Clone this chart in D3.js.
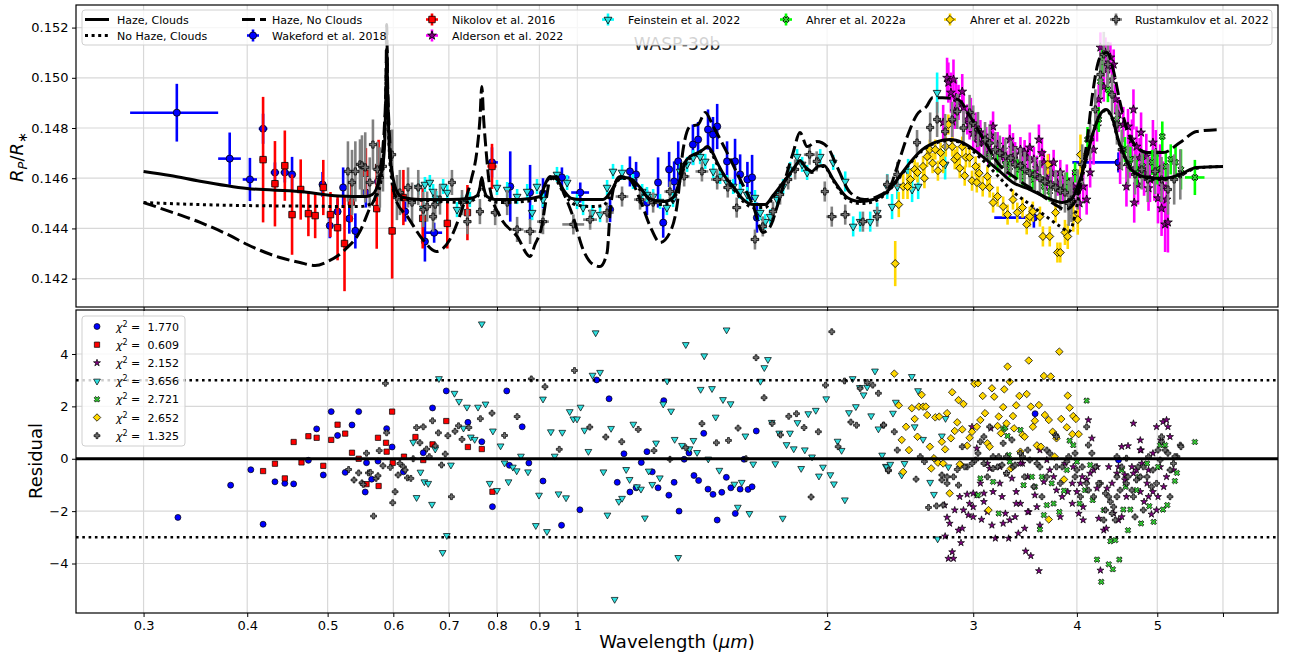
<!DOCTYPE html>
<html>
<head>
<meta charset="utf-8">
<script src="https://cdn.jsdelivr.net/npm/d3@7"></script>
<style>
  body { margin: 0; background: #fff; }
  svg { display: block; font-family: "DejaVu Sans", sans-serif; }
</style>
</head>
<body>
<svg id="chart" width="1293" height="660"></svg>
<script>
// ---------- Axis ticks ----------
const xTickValues = [0.3, 0.4, 0.5, 0.6, 0.7, 0.8, 0.9, 1, 2, 3, 4, 5, 6];
const xTickLabels = ["0.3", "0.4", "0.5", "0.6", "0.7", "0.8", "0.9", "1", "2", "3", "4", "5", ""];
const yTopTicks = [0.142, 0.144, 0.146, 0.148, 0.150, 0.152];
const yResTicks = [-4, -2, 0, 2, 4];

// ---------- Model spectra: [wavelength (um), Rp/R*] ----------
const modelHazeClouds = [[0.300,0.14627],[0.323,0.14611],[0.351,0.14588],[0.400,0.14559],[0.463,0.14547],[0.516,0.14529],[0.556,0.14527],[0.566,0.14535],[0.572,0.14555],[0.577,0.14595],[0.583,0.14655],[0.586,0.14754],[0.5880,0.14953],[0.5893,0.15100],[0.5905,0.14953],[0.5927,0.14754],[0.5958,0.14655],[0.600,0.14595],[0.606,0.14547],[0.617,0.14523],[0.646,0.14515],[0.700,0.14515],[0.742,0.14519],[0.757,0.14531],[0.763,0.14563],[0.767,0.14603],[0.771,0.14563],[0.778,0.14527],[0.795,0.14515],[0.853,0.14515],[0.902,0.14527],[0.914,0.14575],[0.927,0.14607],[0.945,0.14595],[0.965,0.14547],[0.985,0.14519],[1.008,0.14515],[1.074,0.14515],[1.101,0.14555],[1.119,0.14595],[1.141,0.14603],[1.164,0.14595],[1.190,0.14563],[1.213,0.14527],[1.240,0.14511],[1.272,0.14507],[1.304,0.14523],[1.330,0.14595],[1.348,0.14663],[1.367,0.14686],[1.398,0.14702],[1.418,0.14714],[1.434,0.14726],[1.453,0.14706],[1.474,0.14663],[1.506,0.14607],[1.541,0.14567],[1.585,0.14515],[1.630,0.14495],[1.684,0.14495],[1.721,0.14531],[1.770,0.14583],[1.820,0.14635],[1.855,0.14671],[1.885,0.14643],[1.917,0.14627],[1.949,0.14647],[1.982,0.14651],[2.034,0.14595],[2.115,0.14523],[2.192,0.14507],[2.273,0.14515],[2.363,0.14547],[2.430,0.14595],[2.518,0.14663],[2.604,0.14714],[2.714,0.14746],[2.813,0.14754],[2.913,0.14742],[3.058,0.14694],[3.209,0.14635],[3.349,0.14583],[3.513,0.14555],[3.676,0.14523],[3.840,0.14503],[3.937,0.14515],[4.036,0.14595],[4.116,0.14694],[4.185,0.14782],[4.266,0.14854],[4.338,0.14874],[4.411,0.14842],[4.486,0.14754],[4.573,0.14683],[4.675,0.14627],[4.867,0.14603],[5.081,0.14599],[5.326,0.14615],[5.576,0.14643],[6.0,0.14647]];

const modelNoHazeClouds = [[0.300,0.14503],[0.351,0.14495],[0.400,0.14491],[0.463,0.14489],[0.547,0.14487],[0.561,0.14495],[0.574,0.14535],[0.580,0.14595],[0.584,0.14700],[0.5875,0.14900],[0.5893,0.15120],[0.5908,0.14900],[0.5935,0.14700],[0.597,0.14600],[0.600,0.14555],[0.606,0.14523],[0.617,0.14515],[0.664,0.14511],[0.732,0.14503],[0.757,0.14523],[0.763,0.14555],[0.767,0.14595],[0.771,0.14555],[0.778,0.14519],[0.807,0.14503],[0.902,0.14515],[0.914,0.14567],[0.927,0.14603],[0.945,0.14587],[0.965,0.14535],[0.994,0.14495],[1.036,0.14487],[1.074,0.14491],[1.101,0.14547],[1.119,0.14591],[1.141,0.14599],[1.164,0.14591],[1.190,0.14555],[1.224,0.14511],[1.258,0.14495],[1.290,0.14499],[1.318,0.14543],[1.340,0.14630],[1.367,0.14680],[1.398,0.14698],[1.434,0.14722],[1.474,0.14655],[1.541,0.14559],[1.585,0.14507],[1.630,0.14483],[1.684,0.14483],[1.721,0.14523],[1.770,0.14579],[1.820,0.14631],[1.855,0.14667],[1.885,0.14639],[1.917,0.14623],[1.949,0.14643],[1.982,0.14647],[2.034,0.14591],[2.115,0.14515],[2.192,0.14499],[2.273,0.14507],[2.363,0.14543],[2.430,0.14591],[2.518,0.14659],[2.604,0.14710],[2.714,0.14742],[2.813,0.14750],[2.913,0.14738],[3.058,0.14682],[3.209,0.14611],[3.349,0.14547],[3.513,0.14495],[3.676,0.14447],[3.818,0.14408],[3.915,0.14388],[3.981,0.14455],[4.036,0.14560],[4.116,0.14690],[4.185,0.14780],[4.266,0.14850],[4.338,0.14870],[4.411,0.14838],[4.486,0.14750],[4.573,0.14679],[4.675,0.14623],[4.867,0.14599],[5.081,0.14595],[5.326,0.14611],[5.576,0.14640],[6.0,0.14647]];

const modelHazeNoClouds = [[0.300,0.14503],[0.323,0.14467],[0.351,0.14424],[0.381,0.14372],[0.400,0.14336],[0.438,0.14284],[0.463,0.14264],[0.483,0.14252],[0.500,0.14268],[0.525,0.14316],[0.547,0.14388],[0.561,0.14475],[0.574,0.14555],[0.580,0.14655],[0.585,0.14794],[0.588,0.14993],[0.589,0.15212],[0.5905,0.14993],[0.594,0.14754],[0.598,0.14615],[0.604,0.14515],[0.624,0.14447],[0.651,0.14356],[0.676,0.14308],[0.702,0.14356],[0.728,0.14487],[0.745,0.14595],[0.757,0.14714],[0.763,0.14834],[0.767,0.14965],[0.771,0.14834],[0.776,0.14714],[0.785,0.14555],[0.807,0.14447],[0.846,0.14368],[0.877,0.14288],[0.889,0.14336],[0.904,0.14396],[0.917,0.14515],[0.927,0.14595],[0.943,0.14607],[0.961,0.14547],[0.988,0.14447],[1.016,0.14316],[1.045,0.14256],[1.065,0.14248],[1.086,0.14304],[1.095,0.14463],[1.107,0.14567],[1.126,0.14607],[1.157,0.14595],[1.190,0.14515],[1.224,0.14408],[1.258,0.14344],[1.293,0.14384],[1.318,0.14487],[1.341,0.14714],[1.367,0.14806],[1.398,0.14814],[1.426,0.14862],[1.458,0.14806],[1.515,0.14702],[1.571,0.14595],[1.630,0.14487],[1.673,0.14384],[1.708,0.14408],[1.741,0.14487],[1.790,0.14623],[1.820,0.14702],[1.855,0.14782],[1.892,0.14726],[1.943,0.14746],[2.000,0.14726],[2.055,0.14647],[2.132,0.14543],[2.218,0.14515],[2.298,0.14527],[2.382,0.14567],[2.430,0.14647],[2.498,0.14766],[2.567,0.14854],[2.636,0.14886],[2.680,0.14921],[2.755,0.14921],[2.873,0.14914],[2.974,0.14846],[3.087,0.14754],[3.209,0.14663],[3.394,0.14595],[3.587,0.14543],[3.765,0.14495],[3.872,0.14475],[3.960,0.14495],[4.036,0.14575],[4.116,0.14754],[4.185,0.14953],[4.266,0.15081],[4.350,0.15101],[4.424,0.15033],[4.509,0.14902],[4.598,0.14794],[4.675,0.14742],[4.867,0.14702],[5.081,0.14702],[5.326,0.14742],[5.576,0.14786],[5.957,0.14794]];

// ---------- Observations: [wavelength, Rp/R*, error, xerr_low, xerr_high] ----------
const wakeford2018 = [[0.329,0.14861,0.00115,0.04,0.04],[0.381,0.14678,0.00104,0.012,0.012],[0.403,0.14595,0.00086,0.008,0.008],[0.418,0.14797,0.0006,0.005],[0.432,0.14623,0.0004,0.005],[0.444,0.14623,0.0004,0.005],[0.453,0.14615,0.0007,0.004],[0.493,0.14575,0.0005,0.004],[0.503,0.14411,0.0005,0.004],[0.514,0.14467,0.0005,0.004],[0.522,0.14563,0.0008,0.004],[0.531,0.14439,0.0006,0.004],[0.540,0.14390,0.0007,0.004],[0.556,0.14543,0.0006,0.004],[0.575,0.14587,0.0005,0.004],[0.620,0.14467,0.0004,0.004],[0.655,0.14348,0.0008,0.004],[0.672,0.14383,0.0004,0.015],[0.789,0.14663,0.0006,0.013],[0.830,0.14567,0.0014,0.006],[0.877,0.14543,0.0011,0.006],[0.909,0.14540,0.0006,0.006],[0.958,0.14603,0.0004,0.02],[1.008,0.14543,0.0004,0.025],[1.095,0.14475,0.0005],[1.157,0.14627,0.0006],[1.177,0.14615,0.0005],[1.213,0.14503,0.0005],[1.251,0.14583,0.0010],[1.269,0.14423,0.0006],[1.290,0.14635,0.0007],[1.308,0.14587,0.0008],[1.323,0.14667,0.0008],[1.378,0.14734,0.0008],[1.398,0.14754,0.0007],[1.437,0.14794,0.0008],[1.457,0.14774,0.0007],[1.474,0.14806,0.0009],[1.515,0.14667,0.0008],[1.549,0.14667,0.0009],[1.571,0.14615,0.0008],[1.603,0.14595,0.0007],[1.624,0.14603,0.0009],[1.646,0.14443,0.0006],[3.55,0.14443,0.0004,0.37,0.01],[4.49,0.14663,0.0004,0.54,0.01]];

const nikolov2016 = [[0.418,0.14674,0.0025,0.004],[0.432,0.14578,0.0017,0.004],[0.444,0.14650,0.0014,0.004],[0.453,0.14455,0.0016,0.004],[0.464,0.14555,0.0012,0.004],[0.474,0.14459,0.0009,0.004],[0.483,0.14451,0.0009,0.004],[0.494,0.14563,0.0011,0.004],[0.504,0.14455,0.0009,0.004],[0.514,0.14403,0.0013,0.004],[0.524,0.14340,0.0019,0.004],[0.534,0.14505,0.0008,0.004],[0.556,0.14620,0.0010,0.004],[0.573,0.14479,0.0016,0.004],[0.576,0.14643,0.0011,0.004],[0.598,0.14390,0.0019,0.004],[0.617,0.14523,0.0011,0.004],[0.651,0.14440,0.0012,0.004],[0.697,0.14420,0.0010,0.004],[0.737,0.14463,0.0011,0.004],[0.789,0.14647,0.0009,0.01]];

const alderson2022 = [[2.76,0.14822,0.0007],[2.79,0.15000,0.0008],[2.80,0.14981,0.0008],[2.82,0.14941,0.0008],[2.83,0.14826,0.0007],[2.84,0.14993,0.0008],[2.85,0.14866,0.0007],[2.86,0.14921,0.0007],[2.88,0.14902,0.0007],[2.91,0.14945,0.0007],[2.92,0.14882,0.0006],[2.95,0.14834,0.0006],[2.97,0.14814,0.0006],[2.98,0.14850,0.0007],[3.00,0.14780,0.0006],[3.02,0.14802,0.0006],[3.03,0.14762,0.0006],[3.05,0.14740,0.0006],[3.06,0.14782,0.0005],[3.09,0.14742,0.0005],[3.11,0.14754,0.0005],[3.13,0.14700,0.0005],[3.15,0.14770,0.0006],[3.17,0.14806,0.0006],[3.19,0.14690,0.0005],[3.21,0.14734,0.0005],[3.23,0.14687,0.0005],[3.26,0.14714,0.0005],[3.29,0.14660,0.0005],[3.32,0.14754,0.0006],[3.35,0.14720,0.0006],[3.37,0.14694,0.0005],[3.38,0.14667,0.0005],[3.42,0.14714,0.0005],[3.44,0.14650,0.0005],[3.46,0.14702,0.0005],[3.49,0.14680,0.0005],[3.51,0.14722,0.0006],[3.55,0.14675,0.0005],[3.58,0.14640,0.0005],[3.60,0.14754,0.0006],[3.63,0.14700,0.0006],[3.65,0.14663,0.0005],[3.68,0.14600,0.0005],[3.70,0.14647,0.0005],[3.73,0.14620,0.0005],[3.75,0.14663,0.0005],[3.79,0.14580,0.0005],[3.82,0.14623,0.0005],[3.85,0.14560,0.0005],[3.89,0.14595,0.0006],[3.92,0.14540,0.0006],[3.96,0.14567,0.0006],[4.00,0.14550,0.0007],[4.03,0.14500,0.0007],[4.07,0.14567,0.0006],[4.11,0.14515,0.0006],[4.15,0.14623,0.0006],[4.19,0.14714,0.0006],[4.23,0.14806,0.0006],[4.25,0.14914,0.0006],[4.27,0.15121,0.0006],[4.29,0.15061,0.0006],[4.31,0.14965,0.0006],[4.33,0.15101,0.0006],[4.35,0.15033,0.0006],[4.39,0.15081,0.0006],[4.41,0.14993,0.0006],[4.43,0.15053,0.0006],[4.45,0.14914,0.0006],[4.49,0.14854,0.0007],[4.51,0.14647,0.0007],[4.55,0.14814,0.0007],[4.59,0.14567,0.0008],[4.61,0.14806,0.0007],[4.63,0.14680,0.0008],[4.66,0.14754,0.0008],[4.68,0.14874,0.0008],[4.69,0.14503,0.0008],[4.70,0.14640,0.0008],[4.72,0.14726,0.0008],[4.74,0.14575,0.0008],[4.76,0.14680,0.0008],[4.78,0.14782,0.0008],[4.82,0.14620,0.0009],[4.85,0.14687,0.0009],[4.88,0.14560,0.0009],[4.90,0.14595,0.0009],[4.94,0.14742,0.0009],[4.96,0.14600,0.0009],[4.98,0.14702,0.0009],[5.01,0.14520,0.0010],[5.04,0.14635,0.0010],[5.06,0.14480,0.0011],[5.08,0.14567,0.0010],[5.11,0.14416,0.0011],[5.13,0.14515,0.0011],[5.15,0.14424,0.0012]];

const feinstein2022 = [[0.643,0.14563,0.0003],[0.652,0.14480,0.0003],[0.655,0.14575,0.0003],[0.664,0.14583,0.0003],[0.670,0.14547,0.0003],[0.676,0.14520,0.0003],[0.689,0.14567,0.0003],[0.697,0.14543,0.0003],[0.716,0.14475,0.0003],[0.726,0.14503,0.0003],[0.742,0.14515,0.0003],[0.800,0.14563,0.0003],[0.823,0.14555,0.0003],[0.846,0.14527,0.0003],[0.870,0.14547,0.0003],[0.882,0.14463,0.0003],[0.894,0.14567,0.0003],[0.909,0.14515,0.0003],[0.945,0.14615,0.0003],[0.972,0.14583,0.0003],[0.999,0.14507,0.0003],[1.016,0.14483,0.0003],[1.042,0.14463,0.0003],[1.065,0.14455,0.0003],[1.086,0.14563,0.0003],[1.104,0.14627,0.0003],[1.132,0.14623,0.0003],[1.167,0.14587,0.0003],[1.197,0.14547,0.0003],[1.213,0.14535,0.0003],[1.234,0.14527,0.0003],[1.258,0.14507,0.0003],[1.282,0.14483,0.0003],[1.304,0.14515,0.0003],[1.330,0.14627,0.0003],[1.356,0.14655,0.0003],[1.379,0.14682,0.0003],[1.406,0.14686,0.0003],[1.426,0.14667,0.0003],[1.458,0.14627,0.0003],[1.486,0.14607,0.0003],[1.515,0.14583,0.0003],[1.541,0.14567,0.0003],[1.571,0.14547,0.0003],[1.602,0.14535,0.0003],[1.637,0.14523,0.0003],[1.661,0.14463,0.0003],[1.684,0.14427,0.0003],[1.708,0.14447,0.0003],[1.741,0.14515,0.0003],[1.770,0.14567,0.0003],[1.805,0.14635,0.0003],[1.840,0.14686,0.0003],[1.866,0.14655,0.0003],[1.892,0.14623,0.0003],[1.962,0.14686,0.0003],[2.034,0.14663,0.0003],[2.103,0.14587,0.0004],[2.150,0.14408,0.0004],[2.192,0.14427,0.0004],[2.254,0.14427,0.0004],[2.298,0.14463,0.0004],[2.363,0.14567,0.0005],[2.395,0.14487,0.0005],[2.430,0.14567,0.0005],[2.504,0.14627,0.0005],[2.532,0.14555,0.0005],[2.575,0.14567,0.0005],[2.714,0.14941,0.0008],[2.775,0.14655,0.0006]];

const ahrer2022a = [[3.14,0.14687,0.0004],[3.21,0.14663,0.0004],[3.28,0.14655,0.0004],[3.32,0.14643,0.0004],[3.39,0.14635,0.0004],[3.44,0.14607,0.0004],[3.54,0.14595,0.0004],[3.65,0.14567,0.0004],[3.71,0.14547,0.0004],[3.82,0.14555,0.0004],[3.89,0.14583,0.0004],[3.98,0.14623,0.0004],[4.12,0.14754,0.0005],[4.25,0.14834,0.0005],[4.27,0.14985,0.0005],[4.29,0.15061,0.0005],[4.36,0.14953,0.0005],[4.47,0.14834,0.0005],[4.57,0.14714,0.0005],[4.64,0.14675,0.0005],[4.72,0.14623,0.0005],[4.80,0.14647,0.0005],[4.93,0.14663,0.0005],[5.00,0.14635,0.0006],[5.07,0.14766,0.0006],[5.12,0.14647,0.0006],[5.19,0.14675,0.0006],[5.26,0.14663,0.0007],[5.34,0.14635,0.0008],[5.55,0.14603,0.0007,0.15]];

const ahrer2022b = [[2.416,0.14260,0.0009],[2.44,0.14495,0.0005],[2.47,0.14567,0.0005],[2.50,0.14567,0.0005],[2.52,0.14595,0.0004],[2.55,0.14635,0.0004],[2.57,0.14623,0.0004],[2.61,0.14647,0.0004],[2.62,0.14600,0.0004],[2.64,0.14686,0.0004],[2.66,0.14714,0.0004],[2.68,0.14660,0.0004],[2.70,0.14714,0.0004],[2.72,0.14630,0.0004],[2.74,0.14702,0.0004],[2.76,0.14660,0.0004],[2.78,0.14726,0.0004],[2.80,0.14814,0.0004],[2.83,0.14726,0.0004],[2.85,0.14675,0.0004],[2.87,0.14687,0.0004],[2.89,0.14640,0.0004],[2.91,0.14726,0.0004],[2.93,0.14610,0.0004],[2.94,0.14683,0.0004],[2.97,0.14683,0.0004],[2.99,0.14590,0.0004],[3.02,0.14647,0.0004],[3.03,0.14583,0.0004],[3.05,0.14620,0.0004],[3.08,0.14567,0.0004],[3.12,0.14607,0.0004],[3.14,0.14563,0.0004],[3.17,0.14503,0.0004],[3.21,0.14527,0.0004],[3.26,0.14487,0.0004],[3.30,0.14455,0.0004],[3.35,0.14515,0.0004],[3.39,0.14463,0.0004],[3.44,0.14483,0.0004],[3.48,0.14416,0.0004],[3.51,0.14447,0.0004],[3.54,0.14467,0.0004],[3.61,0.14447,0.0004],[3.64,0.14368,0.0004],[3.69,0.14655,0.0004],[3.71,0.14368,0.0004],[3.77,0.14463,0.0004],[3.79,0.14304,0.0004],[3.82,0.14304,0.0004],[3.87,0.14384,0.0005],[3.90,0.14368,0.0005],[3.96,0.14447,0.0006],[4.01,0.14435,0.0006],[4.04,0.14694,0.0008]];

const rustamkulov2022 = [[0.529,0.14627,0.0012],[0.535,0.14583,0.0013],[0.540,0.14627,0.0012],[0.547,0.14655,0.0010],[0.550,0.14651,0.0012],[0.555,0.14643,0.0014],[0.562,0.14583,0.0010],[0.567,0.14734,0.0010],[0.574,0.14635,0.0011],[0.578,0.14603,0.0012],[0.583,0.14647,0.0010],[0.598,0.14694,0.0010],[0.606,0.14523,0.0009],[0.611,0.14543,0.0009],[0.625,0.14563,0.0008],[0.632,0.14503,0.0008],[0.643,0.14563,0.0007],[0.652,0.14475,0.0007],[0.659,0.14487,0.0006],[0.670,0.14447,0.0006],[0.674,0.14495,0.0006],[0.683,0.14515,0.0006],[0.706,0.14583,0.0005],[0.726,0.14503,0.0005],[0.737,0.14427,0.0005,0.008],[0.763,0.14467,0.0005,0.008],[0.796,0.14463,0.0005,0.01],[0.823,0.14503,0.0005,0.01],[0.846,0.14396,0.0005,0.015],[0.877,0.14388,0.0005,0.015],[0.909,0.14427,0.0005,0.015],[0.989,0.14416,0.0004,0.03],[1.036,0.14435,0.0004,0.02],[1.086,0.14463,0.0004,0.02],[1.132,0.14527,0.0004,0.02],[1.190,0.14515,0.0004,0.02],[1.234,0.14503,0.0004,0.02],[1.293,0.14547,0.0004,0.02],[1.345,0.14607,0.0004,0.02],[1.413,0.14627,0.0004,0.025],[1.474,0.14595,0.0004,0.025],[1.518,0.14563,0.0004,0.02],[1.556,0.14483,0.0004,0.02],[1.637,0.14356,0.0004,0.02],[1.673,0.14408,0.0004,0.02],[1.721,0.14467,0.0004,0.02],[1.755,0.14535,0.0004,0.02],[1.795,0.14595,0.0004,0.02],[1.830,0.14635,0.0004,0.02],[1.905,0.14694,0.0004,0.03],[1.943,0.14667,0.0004,0.02],[1.987,0.14547,0.0004,0.02],[2.026,0.14447,0.0004,0.03],[2.103,0.14455,0.0004,0.03],[2.209,0.14427,0.0004,0.03],[2.298,0.14447,0.0004,0.03],[2.363,0.14575,0.0004,0.02],[2.430,0.14615,0.0005,0.02],[2.567,0.14742,0.0005,0.02],[2.662,0.14802,0.0006,0.015],[2.714,0.14834,0.0007,0.015],[2.775,0.14786,0.0007],[2.830,0.14834,0.0007],[2.870,0.14866,0.0007],[2.920,0.14800,0.0007],[2.970,0.14862,0.0007],[3.00,0.14820,0.0007],[3.04,0.14794,0.0007],[3.10,0.14754,0.0007],[3.14,0.14740,0.0007],[3.19,0.14714,0.0007],[3.23,0.14700,0.0007],[3.28,0.14687,0.0007],[3.33,0.14680,0.0007],[3.37,0.14655,0.0007],[3.42,0.14650,0.0007],[3.46,0.14635,0.0007],[3.51,0.14620,0.0007],[3.56,0.14615,0.0007],[3.61,0.14600,0.0007],[3.66,0.14587,0.0007],[3.72,0.14575,0.0007],[3.77,0.14563,0.0007],[3.82,0.14550,0.0008],[3.87,0.14543,0.0008],[3.91,0.14500,0.0009],[3.94,0.14515,0.0009],[4.01,0.14555,0.0008],[4.06,0.14655,0.0008],[4.15,0.14754,0.0008],[4.21,0.14874,0.0008],[4.27,0.15013,0.0009],[4.31,0.15093,0.0009],[4.36,0.15053,0.0009],[4.41,0.14933,0.0008],[4.47,0.14814,0.0008],[4.53,0.14714,0.0008],[4.61,0.14655,0.0008],[4.70,0.14615,0.0008],[4.79,0.14635,0.0008],[4.87,0.14595,0.0009],[4.97,0.14627,0.0009],[5.06,0.14595,0.0009],[5.15,0.14555,0.0010],[5.24,0.14595,0.0010],[5.33,0.14615,0.0010]];

// ---------- Residuals: [wavelength, (data - model)/sigma] ----------
const resWakeford = [[0.330,-2.24],[0.382,-1.01],[0.404,-0.42],[0.418,-2.50],[0.432,-0.88],[0.444,-0.94],[0.455,-0.96],[0.474,-0.06],[0.485,1.14],[0.494,-0.62],[0.505,1.80],[0.514,0.89],[0.525,-0.52],[0.535,1.29],[0.545,1.80],[0.555,-1.27],[0.557,-0.15],[0.565,-0.78],[0.575,-0.09],[0.589,1.15],[0.598,0.45],[0.617,-0.50],[0.652,0.23],[0.669,1.94],[0.695,2.59],[0.738,1.39],[0.767,0.65],[0.790,-1.83],[0.822,2.59],[0.828,-0.25],[0.858,1.22],[0.874,-0.16],[0.909,-0.85],[0.957,-2.54],[1.007,-1.95],[1.055,3.01],[1.092,2.29],[1.117,-0.90],[1.138,0.19],[1.157,-1.27],[1.177,-1.11],[1.194,-0.14],[1.213,0.27],[1.231,-0.50],[1.251,-1.11],[1.271,2.22],[1.289,-1.39],[1.308,-0.90],[1.326,-2.00],[1.345,-0.02],[1.363,0.22],[1.382,-0.64],[1.400,-0.83],[1.420,0.97],[1.437,-1.16],[1.457,-1.36],[1.474,-2.34],[1.493,-1.28],[1.512,-0.71],[1.531,-1.11],[1.550,-2.09],[1.571,-1.16],[1.588,-0.02],[1.606,-1.17],[1.624,-1.07],[1.643,1.06],[3.562,1.72],[4.49,-0.05]];

const resNikolov = [[0.418,-0.47],[0.432,-0.19],[0.444,-0.75],[0.455,0.64],[0.465,-0.14],[0.474,0.86],[0.485,0.80],[0.494,-0.27],[0.505,0.72],[0.514,1.30],[0.525,0.96],[0.535,0.23],[0.545,0.00],[0.557,-0.97],[0.575,0.80],[0.576,-1.04],[0.588,0.61],[0.589,0.27],[0.598,1.80],[0.599,-0.16],[0.618,0.08],[0.638,0.83],[0.652,-0.05],[0.669,0.55],[0.695,1.44],[0.738,0.45],[0.767,0.37],[0.790,-1.26]];

const resAlderson = [[2.80,-3.81],[2.84,-3.81],[2.83,-3.56],[2.90,-3.21],[2.775,-2.96],[2.81,-2.47],[2.88,-2.73],[2.85,-1.96],[2.77,-1.77],[2.79,-2.24],[2.91,-2.66],[2.96,-2.15],[3.00,-1.84],[2.95,-1.36],[3.03,-1.39],[3.07,-2.32],[3.09,-1.64],[3.12,-2.03],[3.16,-2.54],[3.19,-3.04],[3.25,-1.45],[3.28,-2.09],[3.31,-3.04],[3.32,-2.34],[3.37,-2.22],[3.42,-1.71],[3.40,-2.85],[3.46,-2.66],[3.47,-3.53],[3.52,-3.71],[3.50,-2.03],[3.58,-1.84],[3.60,-4.28],[3.61,-2.54],[3.15,1.16],[2.99,1.22],[3.03,0.40],[3.09,-1.32],[3.17,-1.26],[3.23,-0.94],[3.29,-0.56],[3.34,-0.75],[3.38,-1.26],[3.49,-0.69],[3.65,-0.88],[3.71,-0.43],[3.78,-1.20],[3.82,-2.22],[3.90,-1.26],[3.95,-1.71],[3.96,-0.31],[4.02,-2.09],[4.07,-2.34],[4.13,1.48],[4.17,0.78],[4.11,-0.79],[4.19,-0.43],[4.25,-2.28],[4.31,-2.73],[4.27,-4.26],[4.34,-2.66],[4.43,-2.09],[4.49,-2.34],[4.53,0.46],[4.59,-1.45],[4.61,0.49],[4.68,1.35],[4.72,-0.43],[4.77,0.71],[4.78,0.33],[4.82,-1.64],[4.88,-0.43],[4.92,-2.12],[4.99,1.22],[5.05,0.71],[5.08,1.41],[5.13,1.48],[5.15,1.22],[5.18,0.84],[5.09,-1.07],[5.01,-1.45],[4.94,-1.26],[4.86,-0.94],[4.79,-0.18],[4.68,-0.56],[4.57,-0.62],[4.49,-0.31],[4.41,-0.94],[4.35,-1.13],[4.23,-1.13],[4.04,-0.94],[3.61,0.33],[3.44,-0.18],[3.14,-0.37],[3.00,-1.32],[2.89,-1.45],[3.38,-1.71],[3.49,-2.03],[3.23,-0.31],[3.12,-0.18],[3.06,-0.94],[3.42,-0.18],[3.68,-0.05],[3.75,-0.69],[3.87,-0.18],[3.95,-0.94],[4.00,-1.26],[4.06,-0.69],[4.15,-0.56],[4.23,-0.31],[4.37,-0.31],[4.47,-0.56],[4.57,-0.81],[4.66,-0.31],[4.77,0.33],[4.94,0.21],[5.04,-0.31],[5.13,-0.69],[5.23,-0.43],[4.77,-1.26],[4.88,-1.45],[4.99,-1.96],[4.53,-2.22],[4.07,-1.84],[3.84,-1.45],[3.56,-1.39],[3.26,-2.47],[3.00,-2.22],[2.92,-1.96],[2.97,-1.71]];

const resFeinstein = [[0.634,0.63],[0.640,-1.48],[0.647,-0.51],[0.654,-0.88],[0.661,-0.94],[0.668,-1.74],[0.674,0.37],[0.681,3.06],[0.688,-3.58],[0.696,-2.93],[0.704,-0.24],[0.711,2.50],[0.720,2.19],[0.729,1.17],[0.736,1.97],[0.744,0.83],[0.752,0.74],[0.759,1.97],[0.767,5.15],[0.775,2.09],[0.784,-0.94],[0.791,1.06],[0.800,-1.21],[0.808,0.49],[0.817,-0.16],[0.826,-0.88],[0.836,-0.32],[0.845,-0.46],[0.855,0.10],[0.872,-0.50],[0.891,-2.55],[0.899,-1.39],[0.909,2.28],[0.919,-2.78],[0.929,1.03],[0.939,0.10],[0.949,-1.34],[0.959,1.01],[0.969,-1.49],[0.979,1.80],[0.989,1.52],[0.999,1.52],[1.009,1.97],[1.020,1.09],[1.031,0.28],[1.043,3.19],[1.052,4.81],[1.065,3.30],[1.075,-0.50],[1.087,-2.15],[1.098,1.16],[1.109,-5.37],[1.122,-1.63],[1.132,-1.51],[1.145,-0.41],[1.156,-0.79],[1.168,1.32],[1.180,-1.07],[1.193,-1.16],[1.206,-2.26],[1.219,-0.47],[1.231,-0.98],[1.244,0.60],[1.257,-0.73],[1.269,2.09],[1.283,2.97],[1.297,1.82],[1.310,0.74],[1.323,-3.77],[1.337,0.51],[1.351,4.36],[1.365,0.38],[1.380,0.70],[1.394,0.24],[1.408,2.65],[1.422,3.93],[1.438,-0.01],[1.453,2.68],[1.468,1.59],[1.483,-0.44],[1.498,2.26],[1.513,4.92],[1.530,2.10],[1.546,-0.97],[1.561,-1.85],[1.578,-0.90],[1.594,0.87],[1.612,-2.09],[1.629,-0.20],[1.662,2.96],[1.680,3.48],[1.697,3.79],[1.715,1.39],[1.732,-0.19],[1.751,0.98],[1.768,-2.27],[1.787,0.54],[1.804,0.98],[1.823,0.38],[1.842,1.38],[1.861,-0.37],[1.880,0.34],[1.898,1.72],[1.918,0.07],[1.938,1.85],[1.955,-0.66],[1.977,-0.32],[1.995,2.29],[2.018,-0.61],[2.038,-0.96],[2.059,0.67],[2.082,0.32],[2.101,-1.57],[2.125,1.76],[2.147,3.06],[2.166,1.99],[2.190,2.72],[2.213,2.44],[2.235,2.74],[2.260,1.64],[2.284,3.35],[2.306,1.14],[2.330,0.14],[2.354,-0.29],[2.360,-0.31],[2.383,-0.21],[2.401,1.74],[2.420,2.16],[2.460,-0.62],[2.479,-0.18],[2.530,3.14],[2.550,1.22],[2.574,2.60],[2.610,0.74],[2.662,-0.90],[2.690,-1.36],[2.718,-3.06],[2.750,0.87],[2.778,1.54],[2.800,-0.31]];

const resAhrerA = [[3.30,0.87],[3.26,1.12],[3.32,-0.11],[3.42,1.10],[3.45,-1.01],[3.53,-0.69],[3.56,-1.07],[3.61,-2.70],[3.63,-0.69],[3.65,-2.15],[3.68,-1.77],[3.73,-0.94],[3.75,-1.71],[3.81,-2.03],[3.86,-1.22],[3.89,-0.43],[3.92,0.69],[3.96,0.52],[4.00,-0.11],[4.03,-1.71],[4.09,-1.20],[4.11,2.22],[4.15,-0.24],[4.18,-1.58],[4.23,-3.85],[4.28,-4.70],[4.31,-1.96],[4.37,-4.03],[4.39,-3.15],[4.42,-4.22],[4.45,-3.11],[4.50,-3.85],[4.53,-0.43],[4.55,-1.94],[4.58,-1.07],[4.61,-2.73],[4.64,-1.94],[4.72,-1.20],[4.75,-0.69],[4.78,-2.47],[4.86,-0.18],[4.89,-1.81],[4.95,-2.41],[5.01,-0.31],[5.04,0.52],[5.08,-1.94],[5.11,0.52],[5.14,-1.77],[5.25,-0.85],[5.28,-0.54],[5.55,0.64],[3.28,1.19],[3.31,0.14],[3.17,-0.88],[3.04,-1.39],[3.22,-2.09],[3.06,-0.75]];

const resAhrerB = [[2.41,3.25],[2.47,-0.50],[2.44,2.04],[2.46,0.72],[2.49,1.22],[2.51,0.33],[2.53,1.93],[2.55,1.52],[2.57,0.84],[2.58,1.99],[2.60,2.44],[2.61,1.99],[2.63,1.99],[2.64,1.67],[2.66,0.46],[2.67,-0.37],[2.69,0.02],[2.70,1.58],[2.72,-0.15],[2.73,1.61],[2.75,0.65],[2.76,-0.18],[2.775,0.36],[2.79,1.74],[2.81,-1.32],[2.82,0.78],[2.83,2.54],[2.85,1.06],[2.87,1.39],[2.88,2.24],[2.90,-0.24],[2.91,1.12],[2.92,2.09],[2.95,0.50],[2.97,0.80],[2.99,1.03],[3.01,2.86],[3.03,1.22],[3.04,2.88],[3.06,1.48],[3.08,2.40],[3.10,1.74],[3.12,0.59],[3.14,0.46],[3.16,2.69],[3.18,2.37],[3.21,1.25],[3.22,1.61],[3.24,0.97],[3.26,1.97],[3.27,2.65],[3.29,1.35],[3.30,3.52],[3.32,2.94],[3.33,-0.37],[3.35,1.63],[3.36,1.16],[3.38,2.04],[3.41,2.40],[3.42,0.27],[3.44,0.91],[3.46,0.84],[3.48,2.47],[3.50,3.75],[3.52,1.99],[3.54,1.22],[3.56,1.45],[3.58,0.51],[3.60,2.05],[3.62,0.46],[3.65,3.16],[3.66,1.67],[3.70,1.48],[3.72,3.14],[3.74,1.03],[3.76,0.08],[3.78,0.78],[3.81,4.09],[3.83,1.52],[3.86,-0.79],[3.89,1.20],[3.90,2.41],[3.92,1.95],[3.95,0.94],[3.96,1.63],[3.99,1.52],[4.02,0.94],[3.70,-2.32],[3.13,-1.96],[2.89,-0.21]];

const resRustamkulov = [[0.530,-0.41],[0.538,-0.81],[0.545,-0.54],[0.550,-0.92],[0.552,-0.98],[0.557,0.21],[0.560,-0.54],[0.563,-0.52],[0.568,-2.19],[0.572,-0.75],[0.575,-0.65],[0.577,0.31],[0.583,-0.27],[0.587,2.88],[0.589,0.99],[0.595,-0.33],[0.599,-1.68],[0.603,-1.26],[0.608,-0.62],[0.611,-0.18],[0.617,-0.31],[0.620,-0.43],[0.624,-0.73],[0.630,-0.75],[0.634,0.00],[0.640,1.19],[0.646,0.61],[0.652,1.22],[0.658,0.37],[0.663,0.08],[0.669,1.45],[0.674,0.49],[0.680,0.99],[0.686,-0.24],[0.693,0.18],[0.698,0.88],[0.705,-1.45],[0.712,1.05],[0.719,1.26],[0.726,0.74],[0.740,1.19],[0.764,1.53],[0.789,1.74],[0.817,0.89],[0.846,1.61],[0.880,3.05],[0.914,2.75],[0.951,0.36],[0.992,3.37],[1.035,1.21],[1.082,0.83],[1.131,0.65],[1.184,1.12],[1.237,0.31],[1.293,-0.02],[1.351,0.42],[1.413,1.34],[1.471,0.61],[1.521,0.70],[1.562,1.17],[1.597,0.00],[1.642,3.86],[1.679,2.33],[1.717,1.35],[1.757,0.91],[1.798,1.62],[1.837,1.72],[1.876,1.19],[1.913,-1.46],[1.952,1.03],[1.991,2.81],[2.026,4.85],[2.062,0.46],[2.099,2.97],[2.136,1.40],[2.170,1.28],[2.192,2.69],[2.236,2.91],[2.270,2.81],[2.306,2.50],[2.338,1.28],[2.371,-0.46],[2.34,1.29],[2.41,1.03],[2.37,-0.43],[2.43,0.33],[2.56,-0.78],[2.59,0.08],[2.62,-0.11],[2.65,-1.86],[2.71,-1.80],[2.75,-0.81],[2.76,-1.77],[2.75,-0.62],[2.79,-0.69],[2.87,-0.41],[2.91,0.46],[2.95,-0.31],[2.99,-0.18],[3.04,0.21],[3.06,0.65],[3.09,0.84],[3.12,-0.69],[3.14,1.22],[3.17,0.08],[3.21,-0.31],[3.22,0.08],[3.26,0.59],[3.29,0.08],[3.29,-0.56],[3.34,0.72],[3.35,-0.31],[3.42,0.21],[3.46,-0.69],[3.49,0.33],[3.51,-0.05],[3.55,-1.07],[3.61,-0.31],[3.63,-1.45],[3.68,-0.69],[3.68,0.33],[3.77,0.91],[3.78,0.84],[3.82,-0.94],[3.84,-0.31],[3.91,0.08],[3.98,0.21],[3.98,-0.69],[4.00,-0.43],[4.06,-0.31],[4.11,1.22],[4.11,-0.94],[4.13,0.52],[4.17,0.21],[4.21,-0.31],[4.27,-0.94],[4.31,-2.34],[4.33,-1.32],[4.39,-1.64],[4.43,-1.84],[4.45,-2.34],[4.47,-1.45],[4.47,0.08],[4.53,-0.31],[4.59,-0.94],[4.66,-1.20],[4.70,-2.22],[4.72,-0.81],[4.77,-0.69],[4.81,-0.31],[4.81,-1.96],[4.88,0.08],[4.94,-0.43],[4.99,-0.94],[5.04,-0.05],[5.06,0.65],[5.11,0.33],[5.18,-0.43],[5.18,-1.45],[5.23,-0.18],[5.28,0.08],[5.33,0.52],[4.04,-1.45],[4.13,-1.20],[4.19,-1.45],[4.25,-0.94],[4.33,-1.96],[4.37,-1.45],[4.41,-2.09],[4.51,-1.20],[4.61,-0.69],[4.68,-1.45],[4.74,-0.31],[4.86,-0.69],[4.92,-1.07],[5.01,0.33],[5.06,0.84],[5.15,0.21],[5.25,0.08],[5.34,0.46],[4.59,0.02],[4.47,-0.69],[3.89,-0.11],[3.78,-0.31],[3.71,0.21],[3.58,-0.18],[3.44,0.08],[3.37,-0.24],[3.25,-0.24],[3.17,-0.37],[3.09,-0.18],[3.02,-0.05],[2.93,-0.31],[2.84,-0.69],[2.79,-0.94],[2.88,-1.01]];

const chi2Values = ["1.770", "0.609", "2.152", "3.656", "2.721", "2.652", "1.325"];

// ---------- Dataset styles ----------
const datasets = [
  { name: "Wakeford et al. 2018",   rows: wakeford2018,    res: resWakeford,    bar: "#0000ff", fill: "#0000ff", sym: "circle",  sTop: 40, sRes: 28 },
  { name: "Nikolov et al. 2016",    rows: nikolov2016,     res: resNikolov,     bar: "#ff0000", fill: "#ff0000", sym: "square",  sTop: 42, sRes: 28 },
  { name: "Alderson et al. 2022",   rows: alderson2022,    res: resAlderson,    bar: "#ff00ff", fill: "#800080", sym: "star",    sTop: 24, sRes: 15 },
  { name: "Feinstein et al. 2022",  rows: feinstein2022,   res: resFeinstein,   bar: "#00ffff", fill: "#2fe0e0", sym: "tri",     sTop: 26, sRes: 20 },
  { name: "Ahrer et al. 2022a",     rows: ahrer2022a,      res: resAhrerA,      bar: "#00ff00", fill: "#33cc33", sym: "x",       sTop: 24, sRes: 20 },
  { name: "Ahrer et al. 2022b",     rows: ahrer2022b,      res: resAhrerB,      bar: "#ffd700", fill: "#ffd700", sym: "diamond", sTop: 32, sRes: 28 },
  { name: "Rustamkulov et al. 2022",rows: rustamkulov2022, res: resRustamkulov, bar: "#808080", fill: "#707070", sym: "plus",    sTop: 28, sRes: 19 }
];

const models = [
  { name: "Haze, Clouds",    data: modelHazeClouds,   dash: null },
  { name: "No Haze, Clouds", data: modelNoHazeClouds, dash: "3,3.6" },
  { name: "Haze, No Clouds", data: modelHazeNoClouds, dash: "13,5" }
];

// ---------- Layout ----------
const svg = d3.select("#chart");
const L = 76, R = 1278;
const topY0 = 5, topY1 = 307, botY0 = 310, botY1 = 613;

const x = d3.scaleLog().domain([0.2487, 6.99]).range([L, R]);
const yTop = d3.scaleLinear().domain([0.14087, 0.1529]).range([topY1, topY0]);
const yRes = d3.scaleLinear().domain([-5.89, 5.68]).range([botY1, botY0]);

const symTypes = { circle: d3.symbolCircle, square: d3.symbolSquare, star: d3.symbolStar, tri: d3.symbolTriangle, x: d3.symbolCross, diamond: d3.symbolSquare, plus: d3.symbolCross };
const symRot = { tri: 180, x: 45, diamond: 45 };
const symPath = (kind, size) => d3.symbol().type(symTypes[kind]).size(size)();
const symTransform = (kind, px, py) => `translate(${px},${py})` + (symRot[kind] ? ` rotate(${symRot[kind]})` : "");

const defs = svg.append("defs");
defs.append("clipPath").attr("id", "clipTop").append("rect")
  .attr("x", L).attr("y", topY0).attr("width", R - L).attr("height", topY1 - topY0);
defs.append("clipPath").attr("id", "clipBot").append("rect")
  .attr("x", L).attr("y", botY0).attr("width", R - L).attr("height", botY1 - botY0);

// ---------- Grids ----------
function drawGrid(yScale, yTicks, y0, y1) {
  const g = svg.append("g").attr("stroke", "#d8d8d8").attr("stroke-width", 1.2);
  g.selectAll(null).data(xTickValues).join("line")
    .attr("x1", d => x(d)).attr("x2", d => x(d)).attr("y1", y0).attr("y2", y1);
  g.selectAll(null).data(yTicks).join("line")
    .attr("x1", L).attr("x2", R).attr("y1", d => yScale(d)).attr("y2", d => yScale(d));
}
drawGrid(yTop, yTopTicks, topY0, topY1);
drawGrid(yRes, yResTicks, botY0, botY1);

// ---------- Upper panel: observations ----------
const topG = svg.append("g").attr("clip-path", "url(#clipTop)");
datasets.forEach(ds => {
  const g = topG.append("g");
  g.selectAll(null).data(ds.rows).join("line")
    .attr("x1", d => x(d[0])).attr("x2", d => x(d[0]))
    .attr("y1", d => yTop(d[1] - d[2])).attr("y2", d => yTop(d[1] + d[2]))
    .attr("stroke", ds.bar).attr("stroke-width", 2.6);
  g.selectAll(null).data(ds.rows.filter(d => d[3])).join("line")
    .attr("x1", d => x(d[0] - d[3])).attr("x2", d => x(d[0] + (d[4] !== undefined ? d[4] : d[3])))
    .attr("y1", d => yTop(d[1])).attr("y2", d => yTop(d[1]))
    .attr("stroke", ds.bar).attr("stroke-width", 2.6);
  g.selectAll(null).data(ds.rows).join("path")
    .attr("d", symPath(ds.sym, ds.sTop))
    .attr("transform", d => symTransform(ds.sym, x(d[0]), yTop(d[1])))
    .attr("fill", ds.fill).attr("stroke", "#000").attr("stroke-width", 0.8);
});

// ---------- Upper panel: models ----------
const line = d3.line().x(d => x(d[0])).y(d => yTop(d[1])).curve(d3.curveMonotoneX);
models.forEach(m => {
  topG.append("path").attr("d", line(m.data))
    .attr("fill", "none").attr("stroke", "#000").attr("stroke-width", 3)
    .attr("stroke-dasharray", m.dash);
});

// ---------- Lower panel: residuals ----------
const botG = svg.append("g").attr("clip-path", "url(#clipBot)");
datasets.forEach(ds => {
  botG.append("g").selectAll(null).data(ds.res).join("path")
    .attr("d", symPath(ds.sym, ds.sRes))
    .attr("transform", d => symTransform(ds.sym, x(d[0]), yRes(d[1])))
    .attr("fill", ds.fill).attr("stroke", "#000").attr("stroke-width", 0.7);
});
botG.append("line").attr("x1", L).attr("x2", R).attr("y1", yRes(0)).attr("y2", yRes(0))
  .attr("stroke", "#000").attr("stroke-width", 2.8);
[-3, 3].forEach(v => {
  botG.append("line").attr("x1", L).attr("x2", R).attr("y1", yRes(v)).attr("y2", yRes(v))
    .attr("stroke", "#000").attr("stroke-width", 2.4).attr("stroke-dasharray", "2.6,3.7");
});

// ---------- Axes ----------
function styleAxis(g) {
  g.select(".domain").remove();
  g.attr("font-family", "DejaVu Sans, sans-serif").attr("font-size", 13);
  g.selectAll("text").attr("fill", "#000");
  g.selectAll("line").attr("stroke", "#000");
}
svg.append("g").attr("transform", `translate(0,${topY1})`)
  .call(d3.axisBottom(x).tickValues(xTickValues).tickFormat("").tickSize(4).tickSizeOuter(0)).call(styleAxis);
svg.append("g").attr("transform", `translate(0,${botY1})`)
  .call(d3.axisBottom(x).tickValues(xTickValues).tickFormat((d, i) => xTickLabels[i]).tickSize(4).tickPadding(3.5).tickSizeOuter(0)).call(styleAxis);
svg.append("g").attr("transform", `translate(${L},0)`)
  .call(d3.axisLeft(yTop).tickValues(yTopTicks).tickFormat(d3.format(".3f")).tickSize(4).tickPadding(3.5).tickSizeOuter(0)).call(styleAxis);
svg.append("g").attr("transform", `translate(${L},0)`)
  .call(d3.axisLeft(yRes).tickValues(yResTicks).tickFormat(d3.format("d")).tickSize(4).tickPadding(3.5).tickSizeOuter(0)).call(styleAxis);

// Frames
[[topY0, topY1], [botY0, botY1]].forEach(([a, b]) => {
  svg.append("rect").attr("x", L).attr("y", a).attr("width", R - L).attr("height", b - a)
    .attr("fill", "none").attr("stroke", "#000").attr("stroke-width", 1.2);
});

// Axis labels
const yl = svg.append("text").attr("transform", "translate(23,157) rotate(-90)")
  .attr("text-anchor", "middle").attr("font-size", 18);
yl.append("tspan").attr("font-style", "italic").text("R");
yl.append("tspan").attr("font-style", "italic").attr("font-size", 13).attr("dy", 4).text("P");
yl.append("tspan").attr("dy", -4).text("/");
yl.append("tspan").attr("font-style", "italic").text("R");
yl.append("tspan").attr("font-size", 13).attr("dy", 4).text("∗");

svg.append("text").attr("transform", "translate(42,461) rotate(-90)")
  .attr("text-anchor", "middle").attr("font-size", 18).text("Residual");

const xl = svg.append("text").attr("x", 677).attr("y", 648).attr("text-anchor", "middle").attr("font-size", 18);
xl.append("tspan").text("Wavelength (");
xl.append("tspan").attr("font-style", "italic").text("μm");
xl.append("tspan").text(")");

// Title (sits beneath the legend box)
svg.append("text").attr("x", 677).attr("y", 50).attr("text-anchor", "middle")
  .attr("font-size", 17).attr("fill", "#262626").text("WASP-39b");

// ---------- Upper legend ----------
const lg = svg.append("g");
lg.append("rect").attr("x", 82).attr("y", 10).attr("width", 1190).attr("height", 35).attr("rx", 3)
  .attr("fill", "#fff").attr("fill-opacity", 0.8).attr("stroke", "#cfcfcf").attr("stroke-width", 1);
const rowY = [19.5, 35.5];
const legendLines = [
  { m: models[0], x0: 85, tx: 117, row: 0 },
  { m: models[1], x0: 85, tx: 117, row: 1 },
  { m: models[2], x0: 242, tx: 272, row: 0 }
];
legendLines.forEach(e => {
  lg.append("line").attr("x1", e.x0).attr("x2", e.x0 + 24).attr("y1", rowY[e.row]).attr("y2", rowY[e.row])
    .attr("stroke", "#000").attr("stroke-width", 3).attr("stroke-dasharray", e.m.dash);
  lg.append("text").attr("x", e.tx).attr("y", rowY[e.row] + 4).attr("font-size", 11).text(e.m.name);
});
const legendMarks = [
  { ds: datasets[0], mx: 253, tx: 272, row: 1 },
  { ds: datasets[1], mx: 432, tx: 452, row: 0 },
  { ds: datasets[2], mx: 432, tx: 452, row: 1 },
  { ds: datasets[3], mx: 608, tx: 628, row: 0 },
  { ds: datasets[4], mx: 786, tx: 806, row: 0 },
  { ds: datasets[5], mx: 950, tx: 970, row: 0 },
  { ds: datasets[6], mx: 1116, tx: 1135, row: 0 }
];
legendMarks.forEach(e => {
  const cy = rowY[e.row];
  lg.append("line").attr("x1", e.mx - 6).attr("x2", e.mx + 6).attr("y1", cy).attr("y2", cy)
    .attr("stroke", e.ds.bar).attr("stroke-width", 2.6);
  lg.append("line").attr("x1", e.mx).attr("x2", e.mx).attr("y1", cy - 6).attr("y2", cy + 6)
    .attr("stroke", e.ds.bar).attr("stroke-width", 2.6);
  lg.append("path").attr("d", symPath(e.ds.sym, e.ds.sTop))
    .attr("transform", symTransform(e.ds.sym, e.mx, cy))
    .attr("fill", e.ds.fill).attr("stroke", "#000").attr("stroke-width", 0.8);
  lg.append("text").attr("x", e.tx).attr("y", cy + 4).attr("font-size", 11).text(e.ds.name);
});

// ---------- Lower legend (chi-squared per dataset) ----------
const rg = svg.append("g");
rg.append("rect").attr("x", 82).attr("y", 316).attr("width", 103).attr("height", 130).attr("rx", 3)
  .attr("fill", "#fff").attr("fill-opacity", 0.8).attr("stroke", "#cfcfcf").attr("stroke-width", 1);
datasets.forEach((ds, i) => {
  const cy = 326.5 + i * 18.2;
  rg.append("path").attr("d", symPath(ds.sym, ds.sRes))
    .attr("transform", symTransform(ds.sym, 97, cy))
    .attr("fill", ds.fill).attr("stroke", "#000").attr("stroke-width", 0.7);
  const t = rg.append("text").attr("x", 116).attr("y", cy + 4).attr("font-size", 11);
  t.append("tspan").attr("font-style", "italic").text("χ");
  t.append("tspan").attr("font-size", 8).attr("dy", -4).text("2");
  t.append("tspan").attr("dy", 4).text(" =");
  rg.append("text").attr("x", 179).attr("y", cy + 4).attr("font-size", 11).attr("text-anchor", "end").text(chi2Values[i]);
});
</script>
</body>
</html>
